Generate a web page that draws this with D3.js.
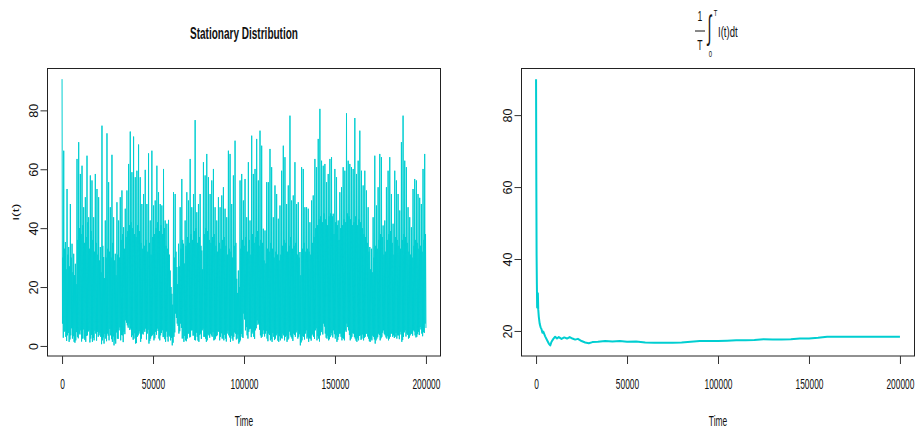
<!DOCTYPE html>
<html>
<head>
<meta charset="utf-8">
<script src="https://cdn.jsdelivr.net/npm/d3@7"></script>
<style>
  html, body { margin: 0; padding: 0; background: #fff; }
  svg { display: block; }
  text { font-family: "Liberation Sans", Arial, Helvetica, sans-serif; fill: #111; }
</style>
</head>
<body>
<svg id="chart" width="917" height="432"></svg>
<script>
// I(t): the simulated path, summarised in time order as repeating groups of
// spike top, low, top of the dense band, low
const pathPeaks = [
  90.6, 66.3, 35.3, 53.3, 33.6, 48.2, 34.7, 31.3, 27.9, 63.5,
  69.2, 58.4, 61.2, 47.1, 50.5, 64.6, 43.7, 57.9, 56.2, 43.7,
  58.4, 53.3, 50.5, 33.6, 74.8, 30.2, 42.6, 72.2, 55.6, 47.1,
  64.9, 43.7, 31.3, 48.8, 42.6, 50.5, 52.8, 40.3, 46.6, 52.8,
  61.8, 72.8, 59.0, 71.1, 57.3, 59.5, 68.4, 57.3, 48.2, 51.6,
  59.8, 48.2, 65.4, 42.6, 66.3, 47.7, 49.4, 61.2, 52.2, 48.2,
  47.7, 60.1, 42.6, 41.5, 42.8, 25.6, 17.7, 52.2, 51.6, 26.8,
  34.7, 47.1, 56.7, 34.7, 42.6, 52.2, 49.4, 63.5, 47.1, 51.6,
  76.7, 45.4, 48.2, 51.6, 32.4, 62.4, 57.9, 65.2, 57.3, 51.6,
  56.2, 60.1, 47.1, 42.6, 50.5, 47.1, 51.1, 53.9, 46.6, 43.7,
  66.3,
  65.2, 48.2, 57.9, 69.7, 22.8, 25.6, 56.2, 58.4, 49.4, 56.7,
  43.7, 62.4, 42.6, 71.4, 58.4, 60.1, 70.3, 56.2, 73.1, 68.0,
  39.8, 39.2, 55.6, 55.6, 66.9, 60.7, 43.7, 54.5, 51.6, 43.2,
  47.7, 59.5, 68.0, 64.1, 48.2, 54.5, 78.2, 49.4, 51.1, 62.4,
  48.2, 48.8, 31.9, 60.7, 60.1, 47.1, 47.1, 46.6, 42.0, 49.4,
  51.1, 63.5, 60.7, 70.3, 80.5, 62.9, 61.2, 61.8, 55.6, 58.4,
  63.5, 64.1, 44.9, 60.1, 57.3, 42.6, 52.2, 53.9, 60.7, 59.5,
  79.0, 62.9, 61.8, 60.7, 60.1, 77.4, 58.4, 62.9, 73.1, 59.5,
  54.5, 59.5, 52.8, 47.1, 33.6, 33.0, 43.7, 64.6, 47.7, 53.9,
  65.2, 64.1, 40.9, 42.6, 53.9, 59.5, 64.1, 51.6, 41.5, 59.5,
  56.2, 51.6, 46.0, 69.2, 78.2, 62.9, 60.7, 47.1, 43.7, 40.3,
  53.3, 56.7, 56.2, 51.6, 50.3, 48.2, 60.1, 65.2
];
const pathTroughs = [
  7.6, 4.8, 3.1, 3.6, 1.4, 3.6, 2.5, 1.4, 1.9, 3.1,
  4.2, 5.3, 2.5, 2.5, 1.4, 3.6, 5.3, 2.5, 1.4, 1.9,
  4.2, 4.8, 3.6, 3.1, 1.9, 0.8, 2.5, 4.2, 1.9, 3.6,
  1.4, 0.2, 0.8, 2.5, 5.3, 1.9, 3.6, 4.8, 8.7, 7.0,
  7.6, 5.9, 3.6, 2.5, 0.8, 3.1, 4.2, 1.4, 4.2, 5.3,
  5.9, 4.2, 0.8, 2.5, 3.6, 1.9, 4.8, 5.9, 2.5, 3.6,
  5.3, 3.1, 1.4, 3.1, 3.6, 1.9, 0.2, 3.1, 11.0, 7.6,
  4.2, 7.6, 2.5, 1.4, 1.9, 2.5, 4.2, 3.1, 5.3, 3.6,
  1.9, 3.1, 1.4, 4.2, 5.3, 3.1, 2.5, 1.9, 3.6, 4.2,
  3.1, 1.9, 2.5, 3.6, 4.8, 3.1, 2.5, 1.9, 2.5, 4.2,
  3.6, 1.4, 2.5, 3.1, 4.2, 2.5, 0.8, 1.9, 3.1, 11.0,
  5.3, 3.6, 4.8, 5.9, 4.2, 3.1, 5.3, 8.7, 7.6, 3.6,
  3.1, 5.3, 4.2, 2.5, 4.2, 1.9, 1.4, 3.1, 2.5, 4.2,
  1.4, 1.9, 2.5, 3.6, 3.1, 1.4, 2.5, 3.6, 2.5, 4.2,
  3.1, 5.3, 3.1, 0.2, 1.9, 3.1, 4.2, 2.5, 1.4, 2.5,
  3.6, 3.1, 5.3, 1.9, 2.5, 3.6, 5.3, 7.6, 4.2, 2.5,
  1.9, 3.1, 3.6, 5.3, 2.5, 1.4, 3.1, 4.2, 1.9, 2.5,
  5.3, 7.6, 5.3, 1.9, 3.1, 4.2, 2.5, 1.4, 1.9, 3.6,
  2.5, 1.9, 3.1, 4.2, 2.5, 1.4, 1.9, 3.1, 0.8, 2.5,
  4.2, 1.9, 3.1, 5.3, 3.6, 2.5, 1.9, 3.1, 4.2, 3.6,
  3.1, 2.5, 3.6, 4.8, 1.4, 3.1, 5.3, 4.2, 2.5, 3.6,
  4.2, 5.3, 3.6, 3.1, 4.8, 6.4, 4.2, 4.8, 7.6
];
const pathBand = [
  30, 33, 26, 31, 27, 30, 25,
  24, 21, 36, 40, 38, 41, 35,
  37, 42, 33, 39, 36, 32, 35,
  31, 29, 25, 34, 23, 30, 33,
  32, 30, 35, 29, 24, 31, 30,
  36, 38, 33, 37, 39, 41, 42,
  40, 38, 37, 41, 39, 35, 33,
  34, 36, 32, 35, 31, 37, 38,
  40, 42, 39, 41, 38, 40, 34,
  33, 31, 20, 14, 30, 32, 21,
  27, 33, 36, 28, 34, 37, 35,
  38, 36, 39, 40, 35, 37, 34,
  26, 38, 40, 39, 36, 35, 37,
  38, 34, 32, 35, 33, 36, 37,
  34, 31, 33, 32, 30, 34, 35,
  18, 20, 33, 36, 34, 37, 32,
  36, 31, 38, 35, 37, 39, 34,
  36, 35, 29, 28, 33, 32, 35,
  33, 30, 32, 31, 29, 31, 34,
  36, 35, 32, 34, 37, 33, 34,
  35, 31, 30, 24, 33, 35, 32,
  33, 32, 31, 35, 37, 40, 41,
  43, 44, 42, 45, 43, 41, 44,
  45, 44, 38, 42, 41, 36, 40,
  41, 43, 42, 45, 44, 43, 41,
  42, 44, 41, 43, 42, 40, 38,
  37, 35, 32, 26, 25, 30, 34,
  33, 36, 38, 37, 31, 32, 36,
  38, 39, 35, 31, 37, 36, 34,
  33, 36, 38, 37, 35, 32, 31,
  30, 34, 36, 35, 33, 34, 32,
  36, 38
];
const pathLows = [
  2.8, 5.1, 1.7, 4.4, 2.2, 6.0, 3.3, 1.1, 4.7, 2.6,
  3.9, 1.5, 5.6, 2.0, 3.4, 4.9, 1.2, 3.8, 2.7, 5.2,
  1.8, 3.1, 4.5, 0.6, 2.9, 4.1, 1.6, 3.5, 5.8, 2.3,
  3.2, 1.9, 4.6, 2.4, 6.3, 3.7, 1.3, 4.0, 7.9, 6.2,
  5.4, 3.0, 2.1, 4.3, 1.0, 3.6, 5.0, 2.5, 3.9, 4.8,
  2.2, 5.5, 1.7, 3.3, 4.1, 2.6, 3.8, 5.1, 1.9, 4.4,
  3.0, 2.3, 4.9, 1.5, 3.2, 2.8, 1.1, 4.6, 9.5, 6.8,
  5.0, 6.1, 2.7, 3.4, 1.6, 4.2, 2.9, 5.3, 3.5, 2.0,
  4.5, 1.8, 3.7, 2.4, 5.9, 3.1, 1.4, 4.0, 2.8, 3.6,
  4.7, 2.1, 3.3, 5.0, 1.9, 4.3, 2.6, 3.8, 1.5, 5.2,
  2.9, 3.5, 1.8, 4.6, 2.2, 3.9, 1.3, 4.1, 2.7, 9.0,
  6.4, 2.5, 5.7, 3.0, 4.8, 2.4, 6.0, 7.2, 5.5, 2.8,
  4.0, 3.2, 5.1, 1.6, 3.7, 2.3, 4.4, 2.0, 3.6, 1.8,
  3.3, 2.7, 4.2, 1.9, 3.5, 2.1, 4.9, 3.0, 1.7, 3.8,
  4.6, 2.5, 4.0, 1.2, 3.4, 2.2, 5.3, 3.1, 2.6, 1.8,
  4.1, 2.4, 6.0, 3.3, 1.5, 4.7, 3.9, 6.6, 2.8, 3.5,
  2.3, 4.4, 2.9, 4.0, 3.6, 2.0, 4.2, 3.1, 2.7, 1.9,
  4.8, 6.4, 3.7, 2.5, 4.3, 3.0, 1.8, 2.6, 3.4, 2.1,
  3.9, 2.8, 4.1, 3.2, 1.6, 2.4, 3.5, 2.2, 1.9, 3.0,
  3.7, 2.6, 4.5, 4.0, 2.9, 3.3, 2.5, 4.2, 3.1, 2.7,
  4.4, 3.6, 2.3, 3.9, 2.0, 4.6, 3.2, 3.8, 2.8, 4.1,
  3.5, 4.9, 2.9, 4.0, 3.7, 5.6, 3.3, 4.4, 6.1
];

// running time average (1/T) * integral_0^T I(t) dt
const meanTimes = [
  0, 150, 300, 450, 600, 800, 1000, 1200, 1500, 2000,
  2500, 3000, 3500, 4000, 5000, 6000, 7000, 7800, 8500, 9500,
  10500, 11500, 12500, 14000, 15500, 17000, 18500, 20000, 21500, 23000,
  25000, 27000, 29000, 31000, 34000, 38000, 42000, 46000, 50000, 55000,
  60000, 65000, 70000, 75000, 80000, 85000, 90000, 95000, 100000, 105000,
  110000, 115000, 120000, 125000, 130000, 135000, 140000, 145000, 150000, 155000,
  160000, 170000, 180000, 190000, 200000
];
const meanValues = [
  90, 62, 41, 33, 26.5, 29, 30.5, 26, 24, 22,
  21, 20.5, 19.5, 19.8, 18.5, 17.5, 16.5, 16.0, 17.0, 17.8,
  18.4, 17.9, 18.3, 17.8, 18.2, 17.9, 18.3, 17.9, 17.6, 17.8,
  17.2, 16.8, 16.6, 16.9, 17.0, 17.2, 17.1, 17.2, 17.0, 17.1,
  16.8, 16.7, 16.7, 16.7, 16.8, 17.0, 17.2, 17.2, 17.2, 17.3,
  17.4, 17.4, 17.5, 17.7, 17.6, 17.6, 17.7, 17.9, 17.9, 18.1,
  18.4, 18.4, 18.4, 18.4, 18.4
];

const timeTicks = [0, 50000, 100000, 150000, 200000];
const leftYTicks = [0, 20, 40, 60, 80];
const rightYTicks = [20, 40, 60, 80];
const timeEnd = 200000;

const lineColor = "#00CED1";

// weave the four readings into one evenly sampled path
const pathValues = [];
pathPeaks.forEach((p, i) => {
  pathValues.push(p, pathTroughs[i], pathBand[i], pathLows[i]);
});
const pathSeries = pathValues.map((v, i) => ({ t: i * timeEnd / (pathValues.length - 1), v }));
const meanSeries = meanTimes.map((t, i) => ({ t, v: meanValues[i] }));

const svg = d3.select("#chart");
svg.append("rect").attr("width", 917).attr("height", 432).attr("fill", "#fff");

// R-style 4% range extension
function padded(extent) {
  const d = (extent[1] - extent[0]) * 0.04;
  return [extent[0] - d, extent[1] + d];
}

function squeezedText(g, x, y, str, size, sx, opts = {}) {
  return g.append("text")
    .attr("transform", `translate(${x},${y}) scale(${sx},1)`)
    .attr("text-anchor", opts.anchor || "middle")
    .attr("font-size", size)
    .attr("font-weight", opts.bold ? "bold" : null)
    .text(str);
}

function panel(left, series, yTicks, strokeW, yLabel) {
  const top = 68.5, bottom = 356, right = left + 393;
  const x = d3.scaleLinear().domain(padded([0, timeEnd])).range([left, right]);
  const y = d3.scaleLinear().domain(padded(d3.extent(series, d => d.v))).range([bottom, top]);
  const g = svg.append("g");

  g.append("path")
    .datum(series)
    .attr("fill", "none")
    .attr("stroke", lineColor)
    .attr("stroke-width", strokeW)
    .attr("stroke-linejoin", "round")
    .attr("d", d3.line().x(d => x(d.t)).y(d => y(d.v)));

  // frame
  g.append("rect")
    .attr("x", left).attr("y", top)
    .attr("width", right - left).attr("height", bottom - top)
    .attr("fill", "none").attr("stroke", "#222").attr("stroke-width", 1);

  // bottom axis
  const xa = g.append("g").attr("transform", `translate(0,${bottom})`)
    .call(d3.axisBottom(x).tickValues(timeTicks).tickSize(8).tickFormat(d3.format("d")));
  xa.select(".domain").remove();
  xa.selectAll(".tick line").attr("stroke", "#333");
  xa.selectAll(".tick text")
    .attr("y", null).attr("dy", null)
    .attr("transform", "translate(0,32.5) scale(0.56,1)")
    .attr("font-size", 15).attr("fill", "#111")
    .attr("font-family", "Liberation Sans, Arial, sans-serif");

  // left axis with labels parallel to it
  const ya = g.append("g").attr("transform", `translate(${left},0)`)
    .call(d3.axisLeft(y).tickValues(yTicks).tickSize(7).tickFormat(d3.format("d")));
  ya.select(".domain").remove();
  ya.selectAll(".tick line").attr("stroke", "#333");
  ya.selectAll(".tick text")
    .attr("x", null).attr("dy", null)
    .attr("text-anchor", "middle")
    .attr("transform", "translate(-10,0) rotate(-90) scale(1,0.95)")
    .attr("font-size", 12.5).attr("fill", "#111")
    .attr("font-family", "Liberation Sans, Arial, sans-serif");

  const cx = (left + right) / 2;
  squeezedText(g, cx, 426, "Time", 15, 0.56);

  if (yLabel) {
    g.append("text")
      .attr("transform", `translate(19,${(top + bottom) / 2}) rotate(-90) scale(1,0.6)`)
      .attr("text-anchor", "middle")
      .attr("font-size", 14)
      .text(yLabel);
  }
  return { g, cx };
}

const leftPanel = panel(47.5, pathSeries, leftYTicks, 1, "I(t)");
const rightPanel = panel(521.5, meanSeries, rightYTicks, 2, null);

// titles
squeezedText(svg, leftPanel.cx, 38.5, "Stationary Distribution", 17, 0.59, { bold: true });

const ft = svg.append("g");
squeezedText(ft, 700, 20.5, "1", 14, 0.62);
ft.append("line").attr("x1", 695).attr("x2", 705).attr("y1", 31).attr("y2", 31)
  .attr("stroke", "#111").attr("stroke-width", 1);
squeezedText(ft, 700, 50, "T", 14, 0.62);
ft.append("text")
  .attr("transform", "translate(709.5,39) scale(0.6,1.4)")
  .attr("text-anchor", "middle")
  .attr("font-family", "DejaVu Sans, sans-serif")
  .attr("font-size", 24)
  .text("\u222B");
squeezedText(ft, 715.5, 16, "T", 9.5, 0.62);
squeezedText(ft, 710.5, 57, "0", 9.5, 0.62);
squeezedText(ft, 718, 37, "I(t)dt", 14.5, 0.66, { anchor: "start" });
</script>
</body>
</html>
